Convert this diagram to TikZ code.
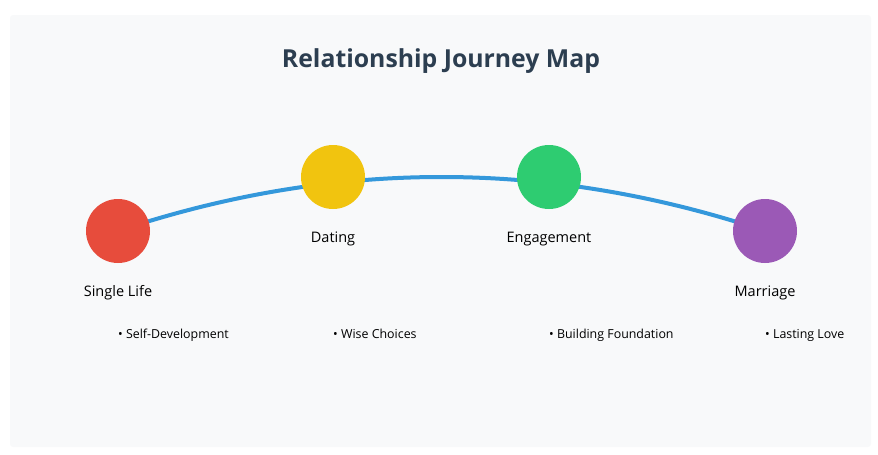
\documentclass[tikz,border=0pt]{standalone}
\usepackage{fontspec}
\setmainfont{Open Sans}

\definecolor{panelgray}{HTML}{F8F9FA}
\definecolor{titleblue}{HTML}{2C3E50}
\definecolor{pathblue}{HTML}{3498DB}
\definecolor{singlered}{HTML}{E74C3C}
\definecolor{datingyellow}{HTML}{F1C40F}
\definecolor{engagegreen}{HTML}{2ECC71}
\definecolor{marrypurple}{HTML}{9B59B6}

\pgfdeclarelayer{bg}
\pgfsetlayers{bg,main}

\begin{document}
\begin{tikzpicture}[x=1pt, y=-1pt,
    stage/.style={circle, minimum size=64pt, inner sep=0pt},
    stagelabel/.style={anchor=base, font=\fontsize{14.5}{16}\selectfont, inner sep=0pt},
    note/.style={anchor=base west, font=\fontsize{12.4}{14}\selectfont, inner sep=0pt}]
    \useasboundingbox (0,0) rectangle (878,455);

    \node[font=\bfseries\fontsize{24.8}{28}\selectfont, text=titleblue] (title) at (441,61) {Relationship Journey Map};

    % stages
    \node[stage, fill=singlered] (single) at (118,231) {};
    \node[stage, fill=datingyellow] (dating) at (333,177) {};
    \node[stage, fill=engagegreen] (engage) at (549,177) {};
    \node[stage, fill=marrypurple] (marriage) at (765,231) {};

    \node[stagelabel] (singlelabel) at (118,296) {Single Life};
    \node[stagelabel] (datinglabel) at (333,242) {Dating};
    \node[stagelabel] (engagelabel) at (549,242) {Engagement};
    \node[stagelabel] (marriagelabel) at (765,296) {Marriage};

    \node[note] (singlenote) at (118,338.5) {• Self-Development};
    \node[note] (datingnote) at (333,338.5) {• Wise Choices};
    \node[note] (engagenote) at (549,338.5) {• Building Foundation};
    \node[note] (marriagenote) at (765,338.5) {• Lasting Love};

    \begin{pgfonlayer}{bg}
        \fill[panelgray, rounded corners=3pt] (10,15) rectangle (871,447);
        \draw[pathblue, line width=4pt] (single.center)
            .. controls (333.67,159) and (549.33,159) .. (marriage.center);
    \end{pgfonlayer}
\end{tikzpicture}
\end{document}
